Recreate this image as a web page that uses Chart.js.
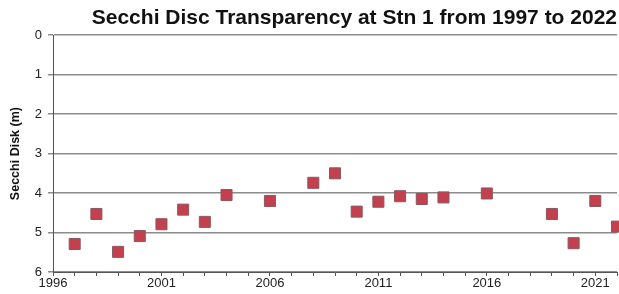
<!DOCTYPE html>
<html>
<head>
<meta charset="utf-8">
<script src="https://cdn.jsdelivr.net/npm/chart.js@4/dist/chart.umd.min.js"></script>
<style>
  html, body { margin: 0; padding: 0; background: #fff; }
  #wrap { width: 619px; height: 294px; position: relative; }
</style>
</head>
<body>
<div id="wrap"><canvas id="secchiChart"></canvas></div>
<script>
// Secchi disc depth readings (m) by year
const years = [1997, 1998, 1999, 2000, 2001, 2002, 2003, 2004, 2006, 2008, 2009, 2010, 2011, 2012, 2013, 2014, 2016, 2019, 2020, 2021, 2022];
const depths = [5.29, 4.53, 5.49, 5.09, 4.79, 4.42, 4.73, 4.05, 4.2, 3.74, 3.5, 4.47, 4.22, 4.08, 4.15, 4.11, 4.01, 4.53, 5.27, 4.2, 4.85];
const xLabelYears = [1996, 2001, 2006, 2011, 2016, 2021];
const yTicks = [0, 1, 2, 3, 4, 5, 6];

const points = years.map((y, i) => ({ x: y, y: depths[i] }));

Chart.defaults.font.family = '"Liberation Sans", Arial, sans-serif';
Chart.defaults.color = '#222';

const ctx = document.getElementById('secchiChart');
new Chart(ctx, {
    type: 'scatter',
    data: {
        datasets: [{
            label: 'Secchi Disk (m)',
            data: points,
            pointStyle: 'rect',
            pointRadius: 7.8,
            pointHoverRadius: 7.8,
            backgroundColor: '#c4404c',
            borderColor: '#8a5860',
            borderWidth: 1,
            clip: false
        }]
    },
    options: {
        responsive: true,
        maintainAspectRatio: false,
        animation: false,
        layout: { autoPadding: false, padding: { left: 0, right: 2, top: 0, bottom: 0 } },
        plugins: {
            legend: { display: false },
            tooltip: { enabled: false },
            title: {
                display: true,
                text: 'Secchi Disc Transparency at Stn 1 from 1997 to 2022',
                align: 'end',
                color: '#111',
                font: { size: 21, weight: 'bold' },
                padding: { top: 6, bottom: 4 }
            }
        },
        scales: {
            x: {
                type: 'linear',
                min: 1996,
                max: 2022,
                afterBuildTicks: function(scale) {
                    const t = [];
                    for (let v = 1996; v <= 2022; v++) t.push({ value: v });
                    scale.ticks = t;
                },
                afterFit: function(scale) { scale.height = 22; },
                ticks: {
                    autoSkip: false,
                    maxRotation: 0,
                    padding: 0,
                    font: { size: 13 },
                    callback: function(value) {
                        return xLabelYears.includes(value) ? String(value) : '';
                    }
                },
                grid: {
                    drawOnChartArea: false,
                    color: '#555',
                    tickLength: 4
                },
                border: { color: '#555', width: 1 }
            },
            y: {
                min: 0,
                max: 6,
                reverse: true,
                afterBuildTicks: function(scale) {
                    scale.ticks = yTicks.map(v => ({ value: v }));
                },
                afterFit: function(scale) { scale.width = 53; },
                title: {
                    display: true,
                    text: 'Secchi Disk (m)',
                    color: '#111',
                    font: { size: 12.5, weight: 'bold' },
                    padding: { top: 8, bottom: 2 }
                },
                ticks: {
                    font: { size: 13 },
                    padding: 6
                },
                grid: {
                    color: '#8c8c8c',
                    lineWidth: 1.5,
                    tickLength: 5
                },
                border: { color: '#555', width: 1 }
            }
        }
    }
});
</script>
</body>
</html>
